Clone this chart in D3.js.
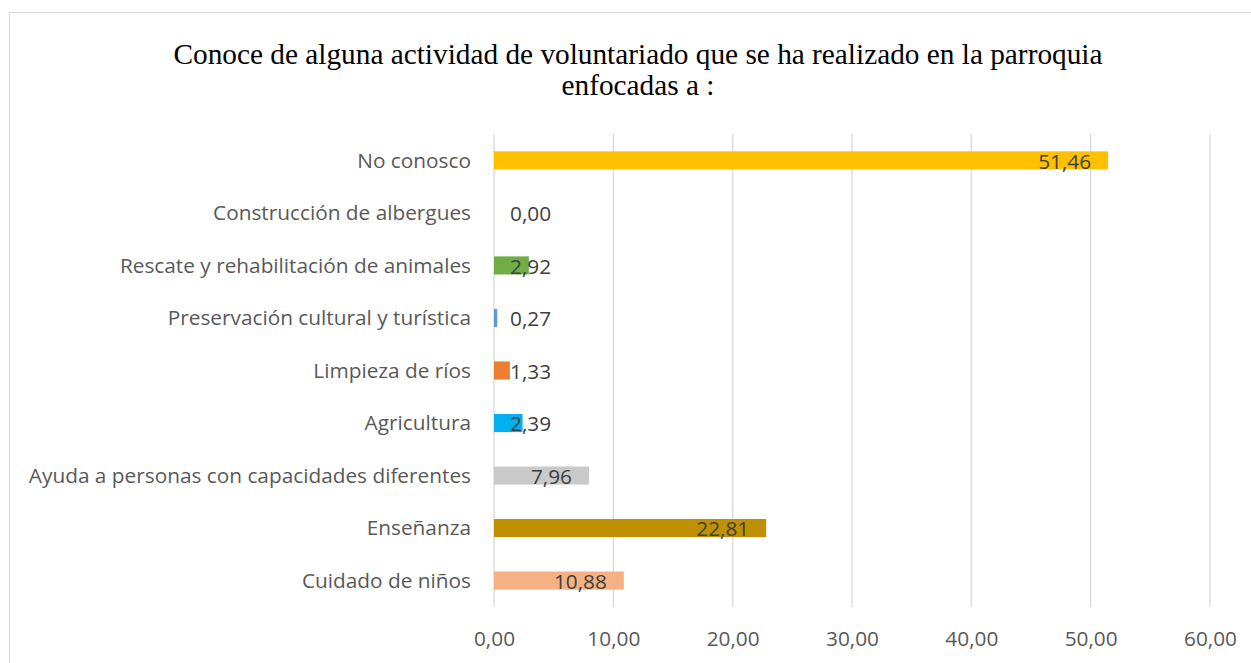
<!DOCTYPE html>
<html>
<head>
<meta charset="utf-8">
<script src="https://cdn.jsdelivr.net/npm/d3@7"></script>
<style>
  body { margin: 0; background: #fff; }
  svg { display: block; }
</style>
</head>
<body>
<svg id="chart" width="1251" height="663"></svg>
<script>
// data, bottom to top as in the picture
var categories = [
    "Cuidado de niños",
    "Enseñanza",
    "Ayuda a personas con capacidades diferentes",
    "Agricultura",
    "Limpieza de ríos",
    "Preservación cultural y turística",
    "Rescate y rehabilitación de animales",
    "Construcción de albergues",
    "No conosco"
]
var values = [10.88, 22.81, 7.96, 2.39, 1.33, 0.27, 2.92, 0.00, 51.46]
var colors = ["#F4B183", "#BF9000", "#C9C9C9", "#00B0F0", "#ED7D31", "#5B9BD5", "#70AD47", "#A5A5A5", "#FFC000"]
var ticks = [0, 10, 20, 30, 40, 50, 60]
var titleLines = ["Conoce de alguna actividad de voluntariado que se ha realizado en la parroquia", "enfocadas a :"]

var svg = d3.select("#chart")
var fmt = function(v){ return v.toFixed(2).replace(".", ",") }
var labelFont = "'Open Sans', Lato, sans-serif"
var labelSize = 20.8

// outer frame
svg.append("rect")
    .attr("x", 9.5).attr("y", 12.5)
    .attr("width", 1260).attr("height", 700)
    .attr("fill", "none").attr("stroke", "#d9d9d9")

// title
svg.append("g").selectAll("text")
    .data(titleLines)
    .enter()
        .append("text")
        .attr("x", 638)
        .attr("y", function(d, i){ return 64 + i * 31 })
        .attr("text-anchor", "middle")
        .attr("font-family", "'Liberation Serif', 'Times New Roman', serif")
        .attr("font-size", 29.3)
        .attr("fill", "#000")
        .text(function(d){ return d })

var x = d3.scaleLinear().domain([0, 60]).range([494, 1210])
var y = d3.scaleBand()
    .domain(categories.slice().reverse())
    .range([134, 607])
    .paddingInner(0.655)
    .paddingOuter(0.33)

// gridlines
svg.append("g").selectAll("line")
    .data(ticks)
    .enter()
        .append("line")
        .attr("x1", function(d){ return x(d) })
        .attr("x2", function(d){ return x(d) })
        .attr("y1", 134).attr("y2", 607)
        .attr("stroke", "#d9d9d9").attr("stroke-width", 1.3)

// x axis tick labels
var xAxis = d3.axisBottom(x).tickValues(ticks).tickSize(0).tickPadding(0).tickFormat(fmt)
var gx = svg.append("g").attr("transform", "translate(0,631)").call(xAxis)
gx.select(".domain").remove()
gx.selectAll("text")
    .attr("font-family", labelFont)
    .attr("font-size", labelSize)
    .attr("fill", "#595959")

// category labels
var yAxis = d3.axisLeft(y).tickSize(0).tickPadding(0)
var gy = svg.append("g").attr("transform", "translate(471,0)").call(yAxis)
gy.select(".domain").remove()
gy.selectAll("text")
    .attr("font-family", labelFont)
    .attr("font-size", labelSize)
    .attr("fill", "#595959")
    .attr("dy", "0.35em")

// bars
var rows = categories.map(function(c, i){ return {cat: c, val: values[i], color: colors[i]} })
svg.append("g").selectAll("rect")
    .data(rows)
    .enter()
        .append("rect")
        .attr("x", x(0))
        .attr("y", function(d){ return y(d.cat) })
        .attr("width", function(d){ return x(d.val) - x(0) })
        .attr("height", y.bandwidth())
        .attr("fill", function(d){ return d.color })

// value labels, inside end, pushed out when the bar is short
var vl = svg.append("g").selectAll("text")
    .data(rows)
    .enter()
        .append("text")
        .attr("y", function(d){ return y(d.cat) + y.bandwidth() / 2 })
        .attr("dy", "0.4em")
        .attr("font-family", labelFont)
        .attr("font-size", labelSize)
        .attr("fill", "#404040")
        .text(function(d){ return fmt(d.val) })
vl.each(function(d){
    var w = this.getComputedTextLength()
    var right = Math.max(x(d.val) - 17, x(0) + 16 + w)
    d3.select(this).attr("x", right - w)
})
</script>
</body>
</html>
